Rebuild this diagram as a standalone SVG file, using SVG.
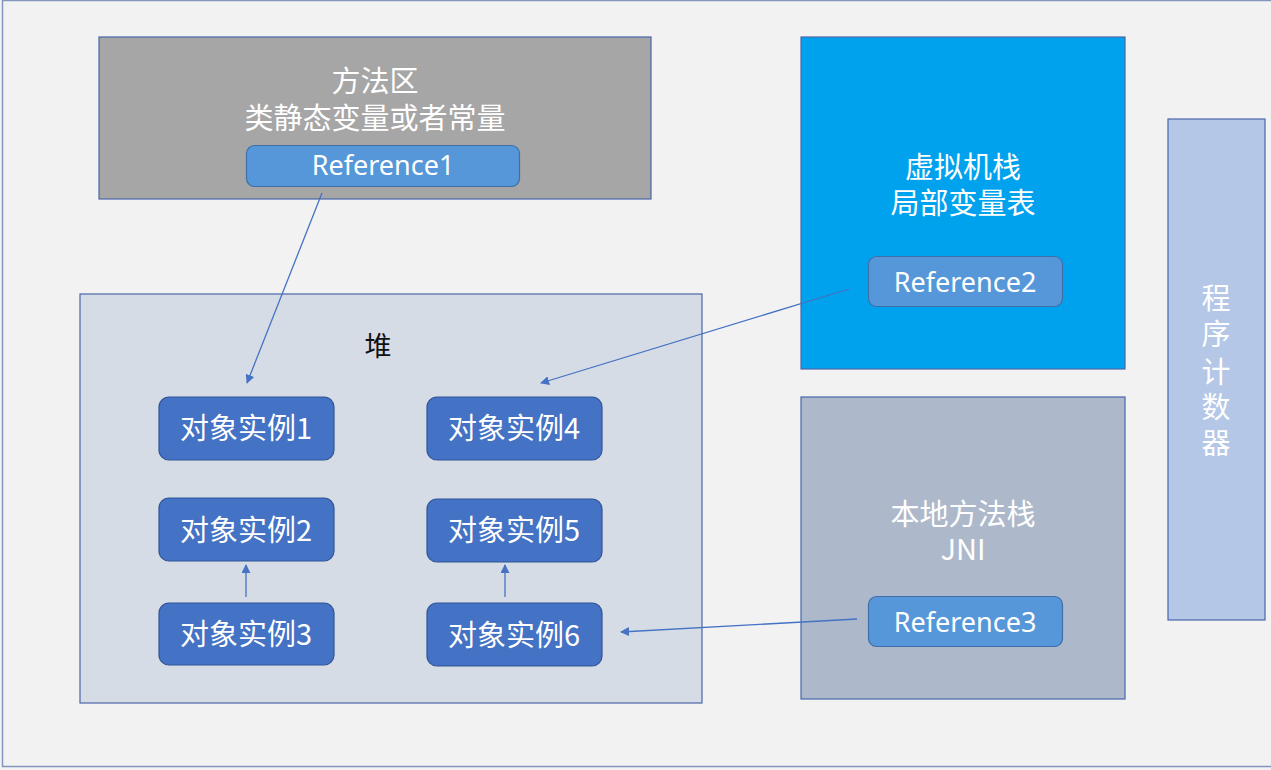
<svg xmlns="http://www.w3.org/2000/svg" width="1271" height="770" viewBox="0 0 1271 770">
  <defs>
    <marker id="arr" viewBox="0 0 10 10" refX="9" refY="5" markerWidth="9" markerHeight="9" markerUnits="userSpaceOnUse" orient="auto">
      <path d="M0,0 L10,5 L0,10 z" fill="#4472c4"/>
    </marker>
    <style>
      .zone { stroke: #4a67a8; stroke-width: 1.2; }
      .ref { fill: #5597d8; stroke: #3f6fa6; stroke-width: 1.2; }
      .inst { fill: #4472c4; stroke: #2f5597; stroke-width: 1.2; }
      .wt { fill: #ffffff; font-family: "Noto Sans CJK SC", "Liberation Sans", sans-serif; font-size: 29px; text-anchor: middle; }
      .rt { fill: #ffffff; font-family: "Noto Sans", "Liberation Sans", sans-serif; font-size: 27px; text-anchor: middle; }
      .it { fill: #ffffff; font-family: "Noto Sans CJK SC", "Liberation Sans", sans-serif; font-size: 29px; text-anchor: middle; }
      .conn { stroke: #4472c4; stroke-width: 1.3; fill: none; }
    </style>
  </defs>
  <rect x="0" y="0" width="1271" height="770" fill="#f2f2f2"/>
  <rect x="2.5" y="0.5" width="1275" height="766" fill="none" stroke="#8496c0" stroke-width="1.5"/>

  <g id="method-area">
    <rect class="zone" x="99" y="37" width="552" height="162" fill="#a6a6a6"/>
    <text class="wt" x="375" y="92">方法区</text>
    <text class="wt" x="375" y="129">类静态变量或者常量</text>
    <g id="reference1">
      <rect class="ref" x="246.5" y="145.5" width="273" height="41" rx="8"/>
      <text class="rt" x="383" y="175">Reference1</text>
    </g>
  </g>

  <g id="vm-stack">
    <rect class="zone" x="801" y="37" width="324" height="332" fill="#00a2ee"/>
    <text class="wt" x="963" y="178">虚拟机栈</text>
    <text class="wt" x="963" y="214">局部变量表</text>
    <g id="reference2">
      <rect class="ref" x="868.5" y="256.5" width="194" height="50" rx="8"/>
      <text class="rt" x="965" y="292">Reference2</text>
    </g>
  </g>

  <g id="program-counter">
    <rect class="zone" x="1168" y="119" width="97" height="501" fill="#b4c7e7"/>
    <text class="wt" x="1216" y="309">程</text>
    <text class="wt" x="1216" y="345">序</text>
    <text class="wt" x="1216" y="383">计</text>
    <text class="wt" x="1216" y="418">数</text>
    <text class="wt" x="1216" y="454">器</text>
  </g>

  <g id="native-stack">
    <rect class="zone" x="801" y="397" width="324" height="302" fill="#adb9ca"/>
    <text class="wt" x="963" y="525">本地方法栈</text>
    <text class="wt" x="963" y="560">JNI</text>
    <g id="reference3">
      <rect class="ref" x="868.5" y="596.5" width="194" height="50" rx="8"/>
      <text class="rt" x="965" y="632">Reference3</text>
    </g>
  </g>

  <g id="heap">
    <rect class="zone" x="80" y="294" width="622" height="409" fill="#d6dce5"/>
    <text x="378" y="356" font-family="Noto Sans CJK SC, sans-serif" font-size="27" text-anchor="middle" fill="#111">堆</text>
  </g>

  <g id="instance1"><rect class="inst" x="159" y="397" width="175" height="63" rx="10"/><text class="it" x="246" y="439">对象实例1</text></g>
  <g id="instance2"><rect class="inst" x="159" y="498" width="175" height="63" rx="10"/><text class="it" x="246" y="541">对象实例2</text></g>
  <g id="instance3"><rect class="inst" x="159" y="603" width="175" height="62" rx="10"/><text class="it" x="246" y="645">对象实例3</text></g>
  <g id="instance4"><rect class="inst" x="427" y="397" width="175" height="63" rx="10"/><text class="it" x="514" y="439">对象实例4</text></g>
  <g id="instance5"><rect class="inst" x="427" y="499" width="175" height="63" rx="10"/><text class="it" x="514" y="541">对象实例5</text></g>
  <g id="instance6"><rect class="inst" x="427" y="603" width="175" height="63" rx="10"/><text class="it" x="514" y="646">对象实例6</text></g>

  <g id="connectors">
    <line class="conn" x1="322" y1="193" x2="247" y2="383" marker-end="url(#arr)"/>
    <line class="conn" x1="849" y1="289" x2="541" y2="383" marker-end="url(#arr)"/>
    <line class="conn" x1="246" y1="597" x2="246" y2="565" marker-end="url(#arr)"/>
    <line class="conn" x1="505" y1="597" x2="505" y2="565" marker-end="url(#arr)"/>
    <line class="conn" x1="857" y1="619" x2="621" y2="632" marker-end="url(#arr)"/>
  </g>
</svg>
